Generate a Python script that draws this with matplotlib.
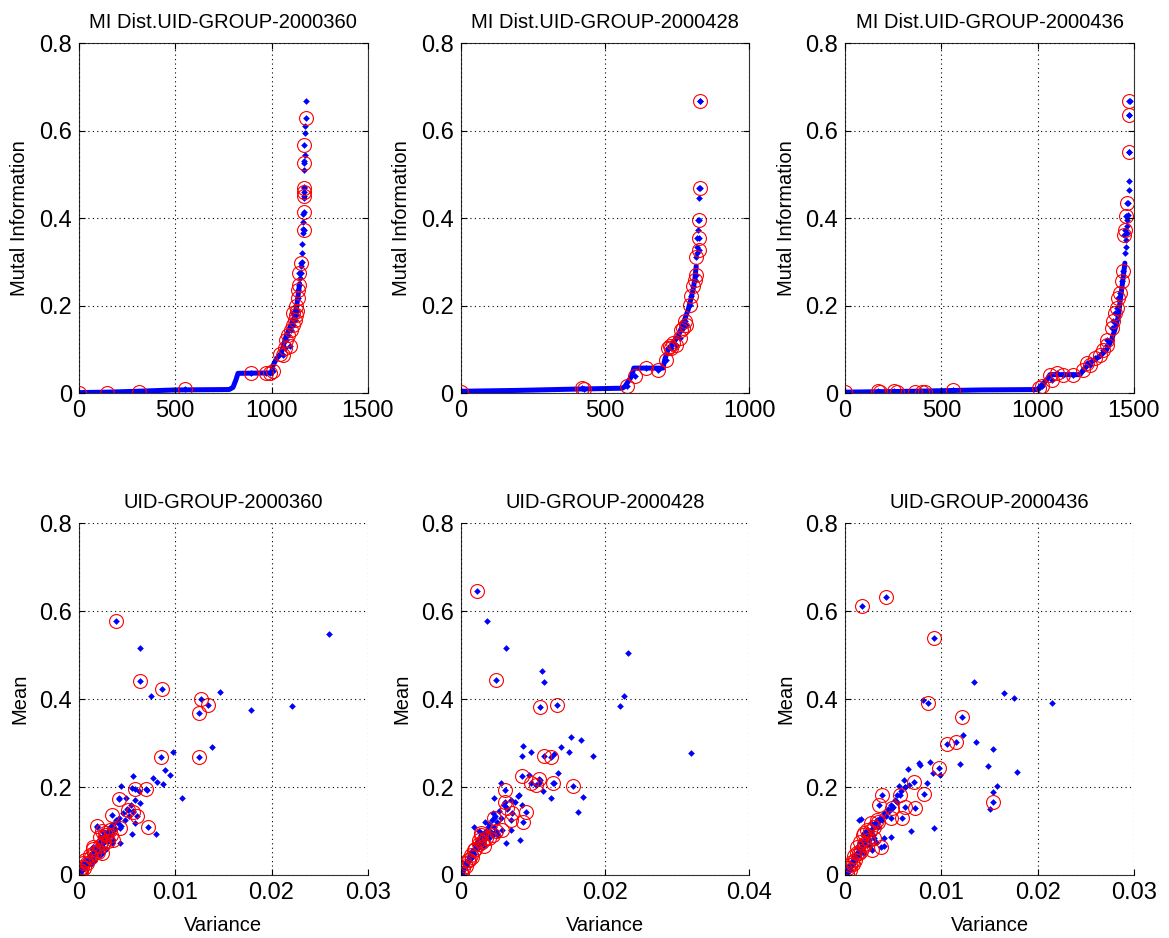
import matplotlib
matplotlib.use("Agg")
import matplotlib.pyplot as plt
from matplotlib.ticker import FuncFormatter

plt.rcParams["font.family"] = ["Liberation Sans", "DejaVu Sans"]

# ---- top row: sorted mutual information per group ----
groups = ["UID-GROUP-2000360", "UID-GROUP-2000428", "UID-GROUP-2000436"]

# dense part of the sorted curve (index, MI)
mi1_line = [(1, 0.001), (150, 0.002), (300, 0.004), (500, 0.007), (780, 0.008), (800, 0.013),
            (815, 0.030), (826, 0.045), (1000, 0.046), (1007, 0.062), (1025, 0.078), (1050, 0.091),
            (1076, 0.13), (1100, 0.155), (1120, 0.175), (1133, 0.206), (1146, 0.25)]
mi1_tail = [(1150, 0.262), (1152, 0.275), (1154, 0.29), (1156, 0.30), (1158, 0.32), (1160, 0.34),
            (1162, 0.365), (1164, 0.375), (1165, 0.39), (1166, 0.41), (1167, 0.445), (1169, 0.47),
            (1170, 0.51), (1171, 0.53), (1172, 0.545), (1173, 0.595), (1175, 0.61), (1177, 0.667)]
mi1_sel = [(0, 0.0), (143, 0.001), (313, 0.003), (550, 0.01), (892, 0.046), (973, 0.046),
           (990, 0.045), (1007, 0.05), (1042, 0.09), (1059, 0.088), (1068, 0.103), (1077, 0.122),
           (1085, 0.133), (1094, 0.107), (1102, 0.145), (1111, 0.156), (1120, 0.168), (1111, 0.183),
           (1125, 0.179), (1132, 0.187), (1128, 0.198), (1137, 0.217), (1137, 0.236), (1142, 0.248),
           (1141, 0.274), (1151, 0.297), (1168, 0.373), (1168, 0.415), (1168, 0.45), (1168, 0.459),
           (1168, 0.469), (1168, 0.526), (1168, 0.566), (1177, 0.629)]

mi2_line = [(1, 0.004), (200, 0.006), (400, 0.009), (560, 0.011), (569, 0.015), (592, 0.038),
            (600, 0.057), (701, 0.057), (707, 0.076), (718, 0.099), (736, 0.114), (753, 0.13),
            (765, 0.149), (776, 0.168), (788, 0.19), (797, 0.213), (805, 0.236), (811, 0.259),
            (816, 0.29)]
mi2_tail = [(818, 0.32), (819, 0.335), (820, 0.354), (822, 0.373), (822, 0.396), (826, 0.446),
            (826, 0.469), (828, 0.667)]
mi2_sel = [(0, 0.002), (420, 0.011), (426, 0.009), (575, 0.017), (604, 0.038), (642, 0.057),
           (684, 0.053), (713, 0.076), (719, 0.103), (724, 0.107), (730, 0.103), (736, 0.114),
           (747, 0.11), (759, 0.126), (764, 0.145), (770, 0.149), (776, 0.164), (782, 0.156),
           (793, 0.202), (799, 0.221), (805, 0.244), (811, 0.259), (816, 0.27), (816, 0.312),
           (825, 0.328), (825, 0.354), (825, 0.396), (828, 0.469), (828, 0.667)]

mi3_line = [(1, 0.002), (350, 0.004), (700, 0.007), (1000, 0.008), (1013, 0.015), (1047, 0.03),
            (1064, 0.042), (1220, 0.042), (1237, 0.053), (1272, 0.069), (1323, 0.084), (1358, 0.099),
            (1384, 0.122), (1401, 0.145), (1419, 0.175), (1427, 0.206), (1436, 0.236), (1445, 0.267),
            (1453, 0.297)]
mi3_tail = [(1455, 0.32), (1458, 0.335), (1460, 0.35), (1462, 0.366), (1464, 0.381), (1466, 0.396),
            (1468, 0.408), (1470, 0.434), (1472, 0.465), (1473, 0.484), (1474, 0.551), (1476, 0.636),
            (1477, 0.667)]
mi3_sel = [(0, 0.002), (169, 0.004), (183, 0.002), (256, 0.004), (269, 0.002), (365, 0.003),
           (399, 0.003), (416, 0.003), (560, 0.008), (1009, 0.011), (1021, 0.015), (1064, 0.042),
           (1073, 0.03), (1099, 0.046), (1134, 0.042), (1185, 0.042), (1237, 0.053), (1254, 0.069),
           (1272, 0.065), (1298, 0.08), (1323, 0.088), (1341, 0.099), (1358, 0.11), (1358, 0.122),
           (1384, 0.149), (1393, 0.164), (1401, 0.183), (1410, 0.194), (1419, 0.217), (1427, 0.229),
           (1436, 0.255), (1441, 0.278), (1448, 0.362), (1453, 0.373), (1458, 0.404), (1462, 0.434),
           (1474, 0.551), (1474, 0.636), (1474, 0.667)]

mi_xmax = [1500, 1000, 1500]
mi_xticks = [[0, 500, 1000, 1500], [0, 500, 1000], [0, 500, 1000, 1500]]

# ---- bottom row: variance vs mean ----
var1_other = [0.0001, 0.0002, 0.0003, 0.0004, 0.0005, 0.0006, 0.0007, 0.0008, 0.0009, 0.0010,
              0.0011, 0.0012, 0.0013, 0.0014, 0.0015, 0.0016, 0.0017, 0.0018, 0.0019, 0.0020,
              0.0021, 0.0022, 0.0023, 0.0024, 0.0025, 0.0026, 0.0027, 0.0028, 0.0030, 0.0031,
              0.0032, 0.0034, 0.0035, 0.0037, 0.0038, 0.0040, 0.0042, 0.0044, 0.0046, 0.0048,
              0.0050, 0.0052, 0.0054, 0.0056, 0.0058, 0.0012, 0.0016, 0.0022, 0.0028, 0.0034,
              0.0008, 0.0014,
              0.02596, 0.02212, 0.0179, 0.01469, 0.01386, 0.01075, 0.00978, 0.0095, 0.00892,
              0.00874, 0.00812, 0.00798, 0.00764, 0.00743, 0.00702, 0.00632, 0.00626, 0.00581,
              0.00632, 0.00563, 0.00546, 0.00546, 0.00487, 0.00432, 0.00418, 0.00425, 0.0019]
mean1_other = [0.003, 0.008, 0.012, 0.016, 0.020, 0.022, 0.028, 0.025, 0.034, 0.030,
               0.040, 0.036, 0.045, 0.050, 0.042, 0.055, 0.060, 0.048, 0.066, 0.070,
               0.058, 0.075, 0.082, 0.065, 0.088, 0.078, 0.095, 0.085, 0.100, 0.090,
               0.108, 0.095, 0.115, 0.105, 0.125, 0.118, 0.130, 0.112, 0.140, 0.125,
               0.150, 0.135, 0.160, 0.145, 0.170, 0.025, 0.032, 0.045, 0.058, 0.072,
               0.030, 0.062,
               0.548, 0.385, 0.375, 0.416, 0.290, 0.176, 0.279, 0.228, 0.239,
               0.207, 0.212, 0.093, 0.221, 0.406, 0.193, 0.516, 0.192, 0.119,
               0.163, 0.224, 0.093, 0.197, 0.174, 0.203, 0.174, 0.072, 0.110]
var1_sel = [0.0038, 0.00632, 0.00864, 0.01268, 0.01341, 0.01248, 0.00847, 0.01244, 0.00691,
            0.00581, 0.00415, 0.00563, 0.00512, 0.00598, 0.00712, 0.00342, 0.00183, 0.00425,
            0.0032, 0.0027, 0.00218, 0.00356, 0.00252, 0.00149, 0.002, 0.00235, 0.00114,
            0.00062, 0.00045, 0.00028, 0.0001, 0.0001, 0.0,
            0.0005, 0.0008, 0.0012, 0.0016, 0.0022, 0.0026, 0.0028, 0.0030, 0.0024, 0.0033,
            0.0015, 0.0002]
mean1_sel = [0.578, 0.441, 0.423, 0.400, 0.387, 0.369, 0.269, 0.268, 0.195,
             0.195, 0.173, 0.144, 0.148, 0.133, 0.110, 0.136, 0.112, 0.106,
             0.102, 0.095, 0.087, 0.080, 0.072, 0.064, 0.053, 0.049, 0.045,
             0.034, 0.027, 0.019, 0.011, 0.005, 0.0015,
             0.015, 0.028, 0.040, 0.050, 0.065, 0.075, 0.090, 0.078, 0.100, 0.092,
             0.060, 0.008]

var2_other = [0.0001, 0.0002, 0.0003, 0.0004, 0.0005, 0.0006, 0.0007, 0.0008, 0.0009, 0.0010,
              0.0011, 0.0012, 0.0013, 0.0014, 0.0015, 0.0016, 0.0018, 0.0019, 0.0020, 0.0022,
              0.0024, 0.0025, 0.0027, 0.0028, 0.0030, 0.0032, 0.0033, 0.0035, 0.0036, 0.0038,
              0.0040, 0.0042, 0.0044, 0.0046, 0.0048, 0.0050, 0.0053, 0.0056, 0.0060, 0.0064,
              0.0070, 0.0075, 0.0080, 0.0085, 0.0019, 0.0026, 0.0034, 0.0045, 0.0052,
              0.03187, 0.02315, 0.02269, 0.02209, 0.01828, 0.0169, 0.01672, 0.01626, 0.01534,
              0.01506, 0.01396, 0.01346, 0.0129, 0.01299, 0.01254, 0.01162, 0.0113, 0.01139,
              0.01107, 0.01084, 0.00978, 0.00946, 0.00863, 0.00845, 0.00817, 0.00625, 0.00372,
              0.00625, 0.00808, 0.00693, 0.00556, 0.00464]
mean2_other = [0.004, 0.007, 0.012, 0.015, 0.018, 0.024, 0.022, 0.030, 0.028, 0.035,
               0.033, 0.040, 0.045, 0.038, 0.050, 0.055, 0.060, 0.048, 0.068, 0.072,
               0.062, 0.080, 0.075, 0.088, 0.082, 0.095, 0.070, 0.100, 0.090, 0.108,
               0.115, 0.098, 0.125, 0.110, 0.135, 0.120, 0.145, 0.130, 0.160, 0.150,
               0.170, 0.165, 0.180, 0.160, 0.110, 0.100, 0.120, 0.140, 0.090,
               0.277, 0.504, 0.408, 0.385, 0.271, 0.177, 0.307, 0.143, 0.313,
               0.279, 0.290, 0.233, 0.210, 0.275, 0.174, 0.438, 0.465, 0.191,
               0.216, 0.209, 0.279, 0.228, 0.294, 0.271, 0.080, 0.516, 0.578,
               0.072, 0.182, 0.102, 0.210, 0.174]
var2_sel = [0.00234, 0.00487, 0.01098, 0.01336, 0.01162, 0.01258, 0.00854, 0.00969, 0.01093,
            0.01281, 0.01557, 0.01038, 0.00615, 0.00615, 0.00648, 0.009, 0.00863, 0.00716,
            0.00693, 0.00464, 0.00579, 0.00487, 0.00289, 0.00395, 0.00257, 0.00326, 0.00188,
            0.00142, 0.00096, 0.00064, 0.00028, 0.00005,
            0.0008, 0.0012, 0.0016, 0.0020, 0.0025, 0.0030, 0.0035, 0.0028, 0.0045, 0.0002]
mean2_sel = [0.646, 0.444, 0.381, 0.387, 0.271, 0.268, 0.225, 0.210, 0.218,
             0.210, 0.203, 0.205, 0.193, 0.165, 0.152, 0.144, 0.121, 0.140,
             0.125, 0.129, 0.102, 0.099, 0.095, 0.083, 0.080, 0.066, 0.057,
             0.045, 0.034, 0.027, 0.015, 0.005,
             0.020, 0.035, 0.040, 0.060, 0.070, 0.075, 0.085, 0.090, 0.090, 0.002]

var3_other = [0.0001, 0.0002, 0.0003, 0.0004, 0.0005, 0.0006, 0.0007, 0.0008, 0.0009, 0.0010,
              0.0011, 0.0012, 0.0013, 0.0014, 0.0015, 0.0016, 0.0017, 0.0018, 0.0019, 0.0020,
              0.0021, 0.0022, 0.0024, 0.0025, 0.0026, 0.0028, 0.0029, 0.0030, 0.0032, 0.0034,
              0.0036, 0.0038, 0.0040, 0.0042, 0.0044, 0.0046, 0.0048, 0.0050, 0.0052, 0.0054,
              0.0058, 0.0062, 0.0066, 0.0014, 0.0020, 0.0026, 0.0032, 0.0040,
              0.02153, 0.01783, 0.01749, 0.01645, 0.01576, 0.01531, 0.01531, 0.015, 0.01479,
              0.01358, 0.01341, 0.0122, 0.01189, 0.00988, 0.00926, 0.00912, 0.00885, 0.00809,
              0.0085, 0.00774, 0.00764, 0.00684, 0.0065, 0.00626, 0.00608, 0.00556, 0.00539,
              0.00477, 0.00166, 0.00401]
mean3_other = [0.004, 0.008, 0.012, 0.018, 0.022, 0.020, 0.030, 0.035, 0.032, 0.042,
               0.040, 0.048, 0.052, 0.045, 0.060, 0.058, 0.066, 0.055, 0.072, 0.078,
               0.068, 0.085, 0.090, 0.080, 0.098, 0.105, 0.092, 0.112, 0.120, 0.110,
               0.130, 0.125, 0.140, 0.135, 0.150, 0.145, 0.160, 0.155, 0.170, 0.165,
               0.190, 0.200, 0.205, 0.125, 0.050, 0.065, 0.075, 0.085,
               0.392, 0.235, 0.403, 0.413, 0.203, 0.286, 0.188, 0.150, 0.248,
               0.302, 0.438, 0.319, 0.253, 0.228, 0.106, 0.231, 0.256, 0.398,
               0.210, 0.250, 0.254, 0.099, 0.240, 0.201, 0.216, 0.203, 0.182,
               0.087, 0.127, 0.065]
var3_sel = [0.00173, 0.00425, 0.00919, 0.00861, 0.01213, 0.01058, 0.01154, 0.00971, 0.00712,
            0.00816, 0.00384, 0.00574, 0.00729, 0.00626, 0.00349, 0.00487, 0.00591, 0.00477,
            0.01531, 0.00377, 0.0028, 0.00332, 0.00263, 0.00228, 0.00194, 0.00297, 0.00159,
            0.00211, 0.00124, 0.00142, 0.0009, 0.00073, 0.00055, 0.00028, 0.00014,
            0.0005, 0.0008, 0.0010, 0.0012, 0.0016, 0.0020, 0.0024, 0.0026, 0.0030, 0.0034,
            0.0018]
mean3_sel = [0.612, 0.632, 0.538, 0.391, 0.359, 0.297, 0.302, 0.243, 0.212,
             0.184, 0.182, 0.182, 0.153, 0.155, 0.159, 0.152, 0.130, 0.129,
             0.165, 0.064, 0.057, 0.125, 0.118, 0.102, 0.095, 0.083, 0.076,
             0.068, 0.064, 0.049, 0.042, 0.030, 0.023, 0.015, 0.005,
             0.012, 0.025, 0.035, 0.050, 0.055, 0.070, 0.080, 0.100, 0.110, 0.120,
             0.090]

var_xmax = [0.03, 0.04, 0.03]
var_xticks = [[0, 0.01, 0.02, 0.03], [0, 0.02, 0.04], [0, 0.01, 0.02, 0.03]]

BLUE = "#0000ff"
RED = "#ff0000"
fmt = FuncFormatter(lambda v, p: f"{v:g}")


def style_axes(ax, boxed):
    ax.set_ylim(0, 0.8)
    ax.set_yticks([0, 0.2, 0.4, 0.6, 0.8])
    ax.xaxis.set_major_formatter(fmt)
    ax.yaxis.set_major_formatter(fmt)
    ax.tick_params(direction="in", labelsize=17, length=4, width=0.8,
                   top=boxed, right=boxed, pad=5)
    ax.grid(True, color="black", linestyle=(0, (1, 3)), linewidth=0.8)
    ax.set_axisbelow(False)
    for s in ax.spines.values():
        s.set_linewidth(0.8)
        s.set_color("#333333")
    if not boxed:
        ax.spines["top"].set_visible(False)
        ax.spines["right"].set_visible(False)


def plot_dots(ax, xs, ys):
    ax.plot(xs, ys, linestyle="none", marker="D", markersize=3.4,
            color=BLUE, markeredgewidth=0)


def plot_sel(ax, xs, ys):
    ax.plot(xs, ys, linestyle="none", marker="o", markersize=10,
            markerfacecolor="none", markeredgecolor=RED, markeredgewidth=0.8)


fig = plt.figure(figsize=(11.69, 9.38), dpi=100)
lefts = [0.0676, 0.394, 0.723]
w = 0.247

mi_lines = [mi1_line, mi2_line, mi3_line]
mi_tails = [mi1_tail, mi2_tail, mi3_tail]
mi_sels = [mi1_sel, mi2_sel, mi3_sel]
for i in range(3):
    ax = fig.add_axes([lefts[i], 0.581, w, 0.373])
    lx, ly = zip(*mi_lines[i])
    ax.plot(lx, ly, color=BLUE, linewidth=3.6, solid_capstyle="round")
    tx, ty = zip(*mi_tails[i])
    plot_dots(ax, tx, ty)
    sx, sy = zip(*mi_sels[i])
    plot_dots(ax, sx, sy)
    plot_sel(ax, sx, sy)
    ax.set_xlim(0, mi_xmax[i])
    ax.set_xticks(mi_xticks[i])
    style_axes(ax, True)
    ax.set_title("MI Dist." + groups[i], fontsize=14.5, pad=11)
    ax.set_ylabel("Mutal Information", fontsize=14.5, labelpad=7)

others = [(var1_other, mean1_other), (var2_other, mean2_other), (var3_other, mean3_other)]
sels = [(var1_sel, mean1_sel), (var2_sel, mean2_sel), (var3_sel, mean3_sel)]
for i in range(3):
    ax = fig.add_axes([lefts[i], 0.0672, w, 0.375])
    plot_dots(ax, *others[i])
    plot_dots(ax, *sels[i])
    plot_sel(ax, *sels[i])
    ax.set_xlim(0, var_xmax[i])
    ax.set_xticks(var_xticks[i])
    style_axes(ax, False)
    ax.set_title(groups[i], fontsize=14.5, pad=11)
    ax.set_ylabel("Mean", fontsize=14.5, labelpad=7)
    ax.set_xlabel("Variance", fontsize=14.5, labelpad=9)

fig.savefig("out.png", dpi=100)
